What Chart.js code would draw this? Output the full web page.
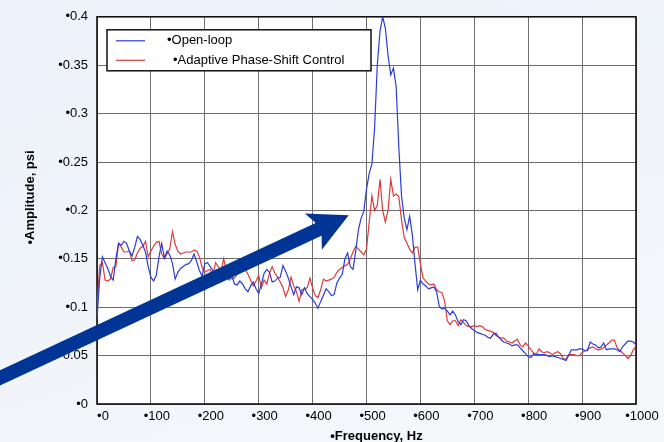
<!DOCTYPE html>
<html lang="en">
<head>
  <meta charset="UTF-8">
  <title>Open-loop vs Adaptive Phase-Shift Control</title>
  <script src="https://cdn.jsdelivr.net/npm/chart.js"></script>
  <style>
    body {
      margin: 0;
      background: #fff;
    }

    #wrap {
      width: 664px;
      height: 442px;
      background: linear-gradient(160deg, #ecf2f8 0%, #f1f5fa 55%, #f5f8fb 100%);
    }

    canvas {
      display: block;
    }
  </style>
</head>
<body>

  <div id="wrap">
    <canvas id="spectrum" width="664" height="442"></canvas>
  </div>

  <script>
    const seriesNames = ['•Open-loop', '•Adaptive Phase-Shift Control'];
    const xTitle = '•Frequency, Hz';
    const yTitle = '•Amplitude, psi';
    const xTickLabels = ['•0', '•100', '•200', '•300', '•400', '•500', '•600', '•700', '•800', '•900', '•1000'];
    const yTickLabels = ['•0', '•0.05', '•0.1', '•0.15', '•0.2', '•0.25', '•0.3', '•0.35', '•0.4'];

    // frequency of each sample, Hz
    const freqHz = [
      0, 5, 10, 15, 20, 25, 30, 35, 40, 45, 50, 55, 60, 65, 70, 75, 80, 85, 90, 95,
      100, 105, 110, 115, 120, 125, 130, 135, 140, 145, 150, 155, 160, 165, 170, 175, 180, 185, 190, 195,
      200, 205, 210, 215, 220, 225, 230, 235, 240, 245, 250, 255, 260, 265, 270, 275, 280, 285, 290, 295,
      300, 305, 310, 315, 320, 325, 330, 335, 340, 345, 350, 355, 360, 365, 370, 375, 380, 385, 390, 395,
      400, 405, 410, 415, 420, 425, 430, 435, 440, 445, 450, 455, 460, 465, 470, 475, 480, 485, 490, 495,
      500, 505, 510, 515, 520, 525, 530, 535, 540, 545, 550, 555, 560, 565, 570, 575, 580, 585, 590, 595,
      600, 605, 610, 615, 620, 625, 630, 635, 640, 645, 650, 655, 660, 665, 670, 675, 680, 685, 690, 695,
      700, 705, 710, 715, 720, 725, 730, 735, 740, 745, 750, 755, 760, 765, 770, 775, 780, 785, 790, 795,
      800, 805, 810, 815, 820, 825, 830, 835, 840, 845, 850, 855, 860, 865, 870, 875, 880, 885, 890, 895,
      900, 905, 910, 915, 920, 925, 930, 935, 940, 945, 950, 955, 960, 965, 970, 975, 980, 985, 990, 995,
      1000
    ];

    // amplitude, psi
    const openLoop = [
      0.088, 0.130, 0.152, 0.146, 0.140, 0.132, 0.128, 0.150, 0.166, 0.164, 0.168, 0.166, 0.158, 0.153, 0.162, 0.173, 0.170, 0.164, 0.157, 0.142,
      0.131, 0.127, 0.133, 0.152, 0.166, 0.151, 0.158, 0.154, 0.145, 0.129, 0.136, 0.140, 0.142, 0.144, 0.145, 0.148, 0.155, 0.147, 0.138, 0.132,
      0.145, 0.146, 0.142, 0.138, 0.134, 0.138, 0.140, 0.135, 0.133, 0.128, 0.133, 0.124, 0.123, 0.127, 0.124, 0.119, 0.116, 0.122, 0.126, 0.119,
      0.114, 0.124, 0.135, 0.139, 0.136, 0.126, 0.127, 0.130, 0.131, 0.143, 0.137, 0.130, 0.121, 0.113, 0.121, 0.120, 0.113, 0.120, 0.114, 0.111,
      0.108, 0.104, 0.099, 0.106, 0.112, 0.119, 0.116, 0.112, 0.113, 0.125, 0.130, 0.134, 0.150, 0.156, 0.142, 0.139, 0.158, 0.180, 0.192, 0.199,
      0.222, 0.238, 0.248, 0.285, 0.350, 0.385, 0.400, 0.388, 0.360, 0.340, 0.347, 0.328, 0.265, 0.215, 0.192, 0.180, 0.194, 0.175, 0.145, 0.118,
      0.128, 0.124, 0.122, 0.119, 0.120, 0.121, 0.116, 0.101, 0.098, 0.099, 0.096, 0.092, 0.096, 0.092, 0.085, 0.082, 0.087, 0.086, 0.081, 0.078,
      0.076, 0.074, 0.073, 0.072, 0.071, 0.069, 0.068, 0.072, 0.073, 0.069, 0.066, 0.064, 0.063, 0.062, 0.060, 0.061, 0.061, 0.058, 0.055, 0.052,
      0.049, 0.048, 0.052, 0.051, 0.051, 0.051, 0.051, 0.050, 0.049, 0.050, 0.049, 0.048, 0.047, 0.046, 0.045, 0.050, 0.056, 0.056, 0.056, 0.057,
      0.057, 0.055, 0.055, 0.064, 0.062, 0.061, 0.058, 0.059, 0.063, 0.056, 0.057, 0.057, 0.057, 0.056, 0.054, 0.059, 0.062, 0.065, 0.065, 0.064,
      0.061
    ];

    const adaptive = [
      0.100, 0.143, 0.146, 0.128, 0.127, 0.129, 0.141, 0.142, 0.166, 0.162, 0.157, 0.157, 0.158, 0.148, 0.149, 0.156, 0.161, 0.163, 0.168, 0.152,
      0.158, 0.163, 0.167, 0.168, 0.155, 0.150, 0.155, 0.160, 0.178, 0.165, 0.158, 0.155, 0.156, 0.157, 0.157, 0.157, 0.159, 0.158, 0.152, 0.141,
      0.136, 0.138, 0.139, 0.133, 0.146, 0.142, 0.137, 0.150, 0.138, 0.133, 0.129, 0.130, 0.134, 0.139, 0.141, 0.139, 0.134, 0.128, 0.122, 0.127,
      0.133, 0.120, 0.128, 0.124, 0.135, 0.142, 0.135, 0.131, 0.126, 0.120, 0.111, 0.118, 0.131, 0.122, 0.116, 0.106, 0.118, 0.119, 0.120, 0.130,
      0.120, 0.112, 0.110, 0.118, 0.129, 0.127, 0.128, 0.129, 0.131, 0.136, 0.139, 0.141, 0.143, 0.144, 0.150, 0.157, 0.163, 0.160, 0.157, 0.154,
      0.160, 0.188, 0.215, 0.200, 0.205, 0.232, 0.200, 0.188, 0.200, 0.232, 0.215, 0.217, 0.214, 0.190, 0.172, 0.166, 0.160, 0.156, 0.162, 0.162,
      0.145, 0.130, 0.127, 0.124, 0.123, 0.124, 0.118, 0.116, 0.115, 0.106, 0.086, 0.082, 0.086, 0.086, 0.081, 0.087, 0.084, 0.081, 0.080, 0.080,
      0.081, 0.080, 0.081, 0.080, 0.077, 0.076, 0.075, 0.074, 0.071, 0.069, 0.068, 0.068, 0.065, 0.064, 0.063, 0.065, 0.067, 0.061, 0.059, 0.063,
      0.060, 0.056, 0.053, 0.051, 0.057, 0.054, 0.053, 0.054, 0.053, 0.051, 0.053, 0.054, 0.052, 0.047, 0.046, 0.051, 0.051, 0.051, 0.050, 0.050,
      0.053, 0.055, 0.056, 0.058, 0.059, 0.057, 0.056, 0.057, 0.058, 0.061, 0.063, 0.066, 0.066, 0.058, 0.055, 0.053, 0.050, 0.047, 0.050, 0.056,
      0.060
    ];

    // arrow annotation, in data units (frequency, amplitude)
    const arrowFrom = [-180, 0.027];
    const arrowTo = [467, 0.195];

    const FONT = "'Liberation Sans', Arial, sans-serif";
    const BLUE = '#2a3cdc';
    const RED = '#dc3b3b';

    // white plot area + black frame
    const plotFrame = {
      id: 'plotFrame',
      beforeDraw(chart) {
        const a = chart.chartArea;
        const ctx = chart.ctx;
        ctx.save();
        ctx.fillStyle = '#fff';
        ctx.fillRect(a.left, a.top, a.right - a.left, a.bottom - a.top);
        ctx.restore();
      },
      beforeDatasetsDraw(chart) {
        const a = chart.chartArea;
        const ctx = chart.ctx;
        ctx.save();
        ctx.strokeStyle = '#111';
        ctx.lineWidth = 1.6;
        ctx.strokeRect(a.left, a.top, a.right - a.left, a.bottom - a.top);
        ctx.restore();
      }
    };

    // axis titles sit a little off-centre on the original slide
    const axisTitles = {
      id: 'axisTitles',
      afterDraw(chart) {
        const a = chart.chartArea;
        const ctx = chart.ctx;
        ctx.save();
        ctx.fillStyle = '#000';
        ctx.font = 'bold 13px ' + FONT;
        ctx.textAlign = 'center';
        ctx.textBaseline = 'middle';
        ctx.fillText(xTitle, (a.left + a.right) / 2 + 10, a.bottom + 32);
        ctx.translate(30, (a.top + a.bottom) / 2 - 13);
        ctx.rotate(-Math.PI / 2);
        ctx.fillText(yTitle, 0, 0);
        ctx.restore();
      }
    };

    // boxed legend inside the plot, like the original slide
    const boxLegend = {
      id: 'boxLegend',
      afterDatasetsDraw(chart) {
        const a = chart.chartArea;
        const ctx = chart.ctx;
        const bx = a.left + 10, by = a.top + 13, bw = 264, bh = 41;
        ctx.save();
        ctx.fillStyle = '#fff';
        ctx.fillRect(bx, by, bw, bh);
        ctx.strokeStyle = '#111';
        ctx.lineWidth = 1.5;
        ctx.strokeRect(bx, by, bw, bh);
        ctx.font = '13px ' + FONT;
        ctx.textBaseline = 'middle';
        const textX = [bx + 60, bx + 66];
        chart.data.datasets.forEach((ds, i) => {
          const y = by + 11 + i * 19.5;
          ctx.strokeStyle = ds.borderColor;
          ctx.lineWidth = 1.2;
          ctx.beginPath();
          ctx.moveTo(bx + 9, y);
          ctx.lineTo(bx + 38, y);
          ctx.stroke();
          ctx.fillStyle = '#000';
          ctx.fillText(ds.label, textX[i], y);
        });
        ctx.restore();
      }
    };

    // big navy arrow pointing at the peak (notched head)
    const bigArrow = {
      id: 'bigArrow',
      afterDraw(chart) {
        const xs = chart.scales.x, ys = chart.scales.y;
        const x0 = xs.getPixelForValue(arrowFrom[0]), y0 = ys.getPixelForValue(arrowFrom[1]);
        const x1 = xs.getPixelForValue(arrowTo[0]), y1 = ys.getPixelForValue(arrowTo[1]);
        const len = Math.hypot(x1 - x0, y1 - y0);
        const ux = (x1 - x0) / len, uy = (y1 - y0) / len;
        const headLen = 39, headHalf = 20, notch = 9;
        const bxp = x1 - ux * headLen, byp = y1 - uy * headLen;
        const nx = bxp + ux * notch, ny = byp + uy * notch;
        const ctx = chart.ctx;
        ctx.save();
        ctx.strokeStyle = '#003595';
        ctx.fillStyle = '#003595';
        ctx.lineWidth = 14;
        ctx.beginPath();
        ctx.moveTo(x0 - ux * 20, y0 - uy * 20);
        ctx.lineTo(nx + ux * 2, ny + uy * 2);
        ctx.stroke();
        ctx.beginPath();
        ctx.moveTo(x1, y1);
        ctx.lineTo(bxp - uy * headHalf, byp + ux * headHalf);
        ctx.lineTo(nx, ny);
        ctx.lineTo(bxp + uy * headHalf, byp - ux * headHalf);
        ctx.closePath();
        ctx.fill();
        ctx.restore();
      }
    };

    const ctx = document.getElementById('spectrum').getContext('2d');
    new Chart(ctx, {
      type: 'line',
      data: {
        datasets: [
          {
            label: seriesNames[0],
            data: freqHz.map((f, i) => ({ x: f, y: openLoop[i] })),
            borderColor: BLUE,
            borderWidth: 1.2,
            pointRadius: 0,
            tension: 0
          },
          {
            label: seriesNames[1],
            data: freqHz.map((f, i) => ({ x: f, y: adaptive[i] })),
            borderColor: RED,
            borderWidth: 1.2,
            pointRadius: 0,
            tension: 0
          }
        ]
      },
      options: {
        responsive: false,
        animation: false,
        layout: { padding: { left: 18, right: 28, top: 16, bottom: 0 } },
        plugins: {
          legend: { display: false },
          tooltip: { enabled: false }
        },
        scales: {
          x: {
            type: 'linear',
            min: 0,
            max: 1000,
            afterFit: s => { s.height = 38; },
            ticks: {
              stepSize: 100,
              callback: (v, i) => xTickLabels[i],
              labelOffset: 6,
              padding: 5,
              maxRotation: 0,
              color: '#000',
              font: { family: FONT, size: 13 }
            },
            grid: { color: '#6e6e6e', lineWidth: 1, drawTicks: false },
            border: { display: false }
          },
          y: {
            min: 0,
            max: 0.4,
            afterFit: s => { s.width = 79; },
            ticks: {
              stepSize: 0.05,
              callback: (v, i) => yTickLabels[i],
              padding: 9,
              color: '#000',
              font: { family: FONT, size: 13 }
            },
            grid: { color: '#6e6e6e', lineWidth: 1, drawTicks: false },
            border: { display: false }
          }
        }
      },
      plugins: [plotFrame, boxLegend, axisTitles, bigArrow]
    });
  </script>

</body>
</html>
